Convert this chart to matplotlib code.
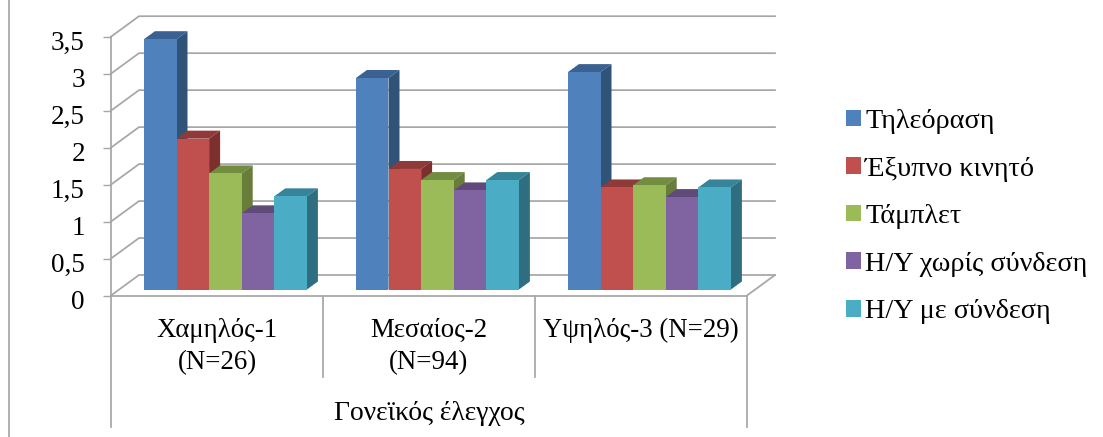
import matplotlib
matplotlib.use("Agg")
import matplotlib.pyplot as plt
from matplotlib.lines import Line2D
from matplotlib.patches import Polygon
from matplotlib.transforms import ScaledTranslation

categories = ["Χαμηλός-1\n(N=26)", "Μεσαίος-2\n(N=94)", "Υψηλός-3 (N=29)"]
group_label = "Γονεϊκός έλεγχος"
series_names = ["Τηλεόραση", "Έξυπνο κινητό", "Τάμπλετ", "Η/Υ χωρίς σύνδεση", "Η/Υ με σύνδεση"]
tv = [3.385, 2.86, 2.94]
phone = [2.04, 1.63, 1.38]
tablet = [1.57, 1.48, 1.41]
pc_off = [1.03, 1.34, 1.25]
pc_on = [1.26, 1.48, 1.38]
y_ticks = [0, 0.5, 1, 1.5, 2, 2.5, 3, 3.5]
y_labels = ["0", "0,5", "1", "1,5", "2", "2,5", "3", "3,5"]

# front, top, side colours per series
colors = [
    ("#4F81BD", "#3A6192", "#305378"),
    ("#C0504D", "#8F3A38", "#7D2F2E"),
    ("#9BBB59", "#728C40", "#677D39"),
    ("#8064A2", "#5F4A7A", "#5A4572"),
    ("#4BACC6", "#35849A", "#2F6E80"),
]
GRID = "#a6a6a6"
FONT = "Liberation Serif"

# pixel geometry of the picture
W, H = 1103, 437
X0, X1 = 111, 747
Y0, Y35 = 295.5, 36.7
PX_X = (X1 - X0) / 3
PX_Y = (Y0 - Y35) / 3.5


def dx(px):
    return px / PX_X


def dy(px):
    return px / PX_Y


fig = plt.figure(figsize=(W / 100, H / 100), dpi=100, facecolor="white")
ax = fig.add_axes([X0 / W, 1 - Y0 / H, (X1 - X0) / W, (Y0 - Y35) / H])
ax.set_xlim(0, 3)
ax.set_ylim(0, 3.5)
ax.patch.set_visible(False)

# ---- walls and floor ----
wall_x, wall_y = dx(28), dy(20.5)
for v in y_ticks:
    ax.plot([0, wall_x, 3 + wall_x], [v, v + wall_y, v + wall_y], color=GRID, lw=1.25,
            clip_on=False, zorder=1, solid_joinstyle="miter")
ax.plot([3, 3 + wall_x], [0, wall_y], color=GRID, lw=1.25, clip_on=False, zorder=1)
ax.plot([0, 3], [0, 0], color=GRID, lw=1.25, clip_on=False, zorder=1)

# ---- bars ----
series = [tv, phone, tablet, pc_off, pc_on]
bar_w = dx(32.6)
off_x, off_y = dx(8.4), dy(6)
depth_x, depth_y = dx(11), dy(8)
handles = []
for g in range(len(categories)):
    start = g + (1 - 5 * bar_w) / 2 + off_x
    for i, vals in enumerate(series):
        front, top, side = colors[i]
        x = start + i * bar_w
        h = vals[g]
        y1 = off_y + h
        ax.add_patch(Polygon([(x, y1), (x + bar_w, y1), (x + bar_w + depth_x, y1 + depth_y),
                              (x + depth_x, y1 + depth_y)], closed=True, fc=top, ec="none",
                             clip_on=False, zorder=2 + g + i * 0.1))
        ax.add_patch(Polygon([(x + bar_w, off_y), (x + bar_w + depth_x, off_y + depth_y),
                              (x + bar_w + depth_x, y1 + depth_y), (x + bar_w, y1)], closed=True,
                             fc=side, ec="none", clip_on=False, zorder=2 + g + i * 0.1))
        b = ax.bar(x, h, bar_w, bottom=off_y, align="edge", color=front, clip_on=False,
                   zorder=2.05 + g + i * 0.1, label=series_names[i] if g == 0 else None)
        if g == 0:
            handles.append(b)

# ---- axes ----
for name in ["top", "right", "bottom"]:
    ax.spines[name].set_visible(False)
ax.spines["left"].set_color(GRID)
ax.spines["left"].set_linewidth(1.25)
ax.set_xticks([])
ax.set_yticks(y_ticks)
ax.set_yticklabels(y_labels, fontsize=19.5, fontfamily=FONT, color="black")
ax.tick_params(axis="y", length=5.8, width=1.0, color=GRID, pad=13)
# tick labels sit a little below their ticks in the original
shift = ScaledTranslation(0, -4 / 100, fig.dpi_scale_trans)
for lbl in ax.get_yticklabels():
    lbl.set_transform(lbl.get_transform() + shift)

# multi-level category separators
sep_low = dy(377 - Y0)
axis_low = dy(427 - Y0)
ax.plot([0, 0], [0, -axis_low], color=GRID, lw=1.25, clip_on=False)
ax.plot([3, 3], [0, -axis_low], color=GRID, lw=1.25, clip_on=False)
for g in [1, 2]:
    ax.plot([g, g], [0, -sep_low], color=GRID, lw=1.25, clip_on=False)

for g, cat in enumerate(categories):
    ax.text(g + 0.5, -dy(318 - Y0), cat, ha="center", va="top", fontsize=19.4,
            fontfamily=FONT, linespacing=1.4, clip_on=False)
ax.text(1.5, -dy(414 - Y0), group_label, ha="center", va="center", fontsize=19.8,
        fontfamily=FONT, clip_on=False)

# outer frame line on the left
fig.add_artist(Line2D([9.3 / W, 9.3 / W], [0, 1], color=GRID, lw=1.25))

ax.legend(handles=handles, labels=series_names, loc="upper left", frameon=False,
          bbox_to_anchor=(846 / W, 1 - 109 / H), bbox_transform=fig.transFigure,
          prop={"family": FONT, "size": 20.3}, handlelength=0.53, handleheight=0.53,
          handletextpad=0.16, labelspacing=0.8, borderpad=0, borderaxespad=0)

fig.savefig("out.png", dpi=100, facecolor="white")
